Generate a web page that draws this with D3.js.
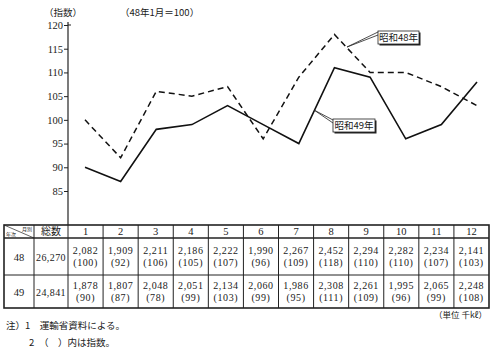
<!DOCTYPE html>
<html>
<head>
<meta charset="utf-8">
<script src="https://cdn.jsdelivr.net/npm/d3@7"></script>
<style>
  body { margin: 0; background: #fff; }
  svg { display: block; }
  text { fill: #1a1a1a; }
</style>
</head>
<body>
<div id="chart"></div>
<script>
// data
const months = [1, 2, 3, 4, 5, 6, 7, 8, 9, 10, 11, 12];
const index48 = [100, 92, 106, 105, 107, 96, 109, 118, 110, 110, 107, 103];
const index49 = [90, 87, 98, 99, 103, 99, 95, 111, 109, 96, 99, 108];
const volume48 = ["2,082", "1,909", "2,211", "2,186", "2,222", "1,990", "2,267", "2,452", "2,294", "2,282", "2,234", "2,141"];
const volume49 = ["1,878", "1,807", "2,048", "2,051", "2,134", "2,060", "1,986", "2,308", "2,261", "1,995", "2,065", "2,248"];
const paren48 = ["100", "92", "106", "105", "107", "96", "109", "118", "110", "110", "107", "103"];
const paren49 = ["90", "87", "78", "99", "103", "99", "95", "111", "109", "96", "99", "108"];
const years = ["48", "49"];
const totals = ["26,270", "24,841"];
const yTicks = [85, 90, 95, 100, 105, 110, 115, 120];

const W = 492, H = 352;
const serif = "'Liberation Serif', 'DejaVu Serif', 'Noto Sans CJK JP', serif";
const jp = "'Noto Sans CJK JP', sans-serif";

const svg = d3.select("#chart").append("svg")
    .attr("width", W)
    .attr("height", H);

// Scales
const x = d3.scalePoint().domain(months).range([85, 477]);
const y = d3.scaleLinear().domain([85, 120]).range([191, 25]);
const axisX = 68;

// Axis line (runs down into the table)
svg.append("line")
    .attr("x1", axisX).attr("x2", axisX)
    .attr("y1", 22).attr("y2", 225)
    .attr("stroke", "#222").attr("stroke-width", 1.2);

const yAxis = svg.append("g")
    .attr("transform", `translate(${axisX},0)`)
    .call(d3.axisLeft(y).tickValues(yTicks).tickSize(4).tickPadding(1));
yAxis.select(".domain").remove();
yAxis.selectAll("line").attr("stroke", "#222");
yAxis.selectAll("text")
    .style("font-family", serif)
    .style("font-size", "10.5px")
    .attr("fill", "#222");
// little mark on the right of the top tick
svg.append("line")
    .attr("x1", axisX).attr("x2", axisX + 3)
    .attr("y1", y(120)).attr("y2", y(120))
    .attr("stroke", "#222");

// Titles
svg.append("text")
    .attr("x", 44).attr("y", 16)
    .style("font-family", jp).style("font-size", "9.5px")
    .text("（指数）");
svg.append("text")
    .attr("x", 120).attr("y", 16)
    .style("font-family", jp).style("font-size", "9.5px")
    .text("（48年1月＝100）");

// Lines
const line = d3.line()
    .x((d, i) => x(months[i]))
    .y(d => y(d));

svg.append("path")
    .datum(index48)
    .attr("d", line)
    .attr("fill", "none")
    .attr("stroke", "#111")
    .attr("stroke-width", 1.5)
    .attr("stroke-dasharray", "6,4");

svg.append("path")
    .datum(index49)
    .attr("d", line)
    .attr("fill", "none")
    .attr("stroke", "#111")
    .attr("stroke-width", 1.6);

// Callout labels
function callout(bx, by, bw, bh, label, tipX, tipY) {
    const g = svg.append("g");
    g.append("path")
        .attr("d", `M${bx},${by + 1}L${tipX},${tipY}L${bx},${by + 4}`)
        .attr("fill", "none")
        .attr("stroke", "#222")
        .attr("stroke-width", 0.8);
    g.append("rect")
        .attr("x", bx + 1.5).attr("y", by + 1.5)
        .attr("width", bw).attr("height", bh)
        .attr("fill", "#222");
    g.append("rect")
        .attr("x", bx).attr("y", by)
        .attr("width", bw).attr("height", bh)
        .attr("fill", "#fff")
        .attr("stroke", "#222")
        .attr("stroke-width", 0.8);
    g.append("text")
        .attr("x", bx + bw / 2).attr("y", by + bh / 2 + 3.5)
        .attr("text-anchor", "middle")
        .style("font-family", jp).style("font-size", "9.5px")
        .text(label);
}
callout(378, 31, 41, 13, "昭和48年", 347, 47);
callout(333, 119, 42, 13, "昭和49年", 314, 110);

// Table
const tTop = 225, tHead = 238, tMid = 275, tBot = 308;
const tLeft = 4, c1 = 34, c2 = 68, tRight = 489;
const col = d3.scaleBand().domain(months).range([c2, tRight]);

const tbl = svg.append("g");
// outer frame
tbl.append("rect")
    .attr("x", tLeft).attr("y", tTop)
    .attr("width", tRight - tLeft).attr("height", tBot - tTop)
    .attr("fill", "none").attr("stroke", "#222").attr("stroke-width", 1.6);
// horizontal rules
[tHead, tMid].forEach(yy => {
    tbl.append("line")
        .attr("x1", tLeft).attr("x2", tRight)
        .attr("y1", yy).attr("y2", yy)
        .attr("stroke", "#222").attr("stroke-width", yy === tHead ? 1.4 : 1);
});
// vertical rules
[c1, c2].concat(months.slice(1).map(m => col(m))).forEach(xx => {
    tbl.append("line")
        .attr("x1", xx).attr("x2", xx)
        .attr("y1", tTop).attr("y2", tBot)
        .attr("stroke", "#222").attr("stroke-width", 1);
});
// corner cell diagonal
tbl.append("line")
    .attr("x1", tLeft).attr("y1", tTop)
    .attr("x2", c1).attr("y2", tHead)
    .attr("stroke", "#222").attr("stroke-width", 0.7);
tbl.append("text")
    .attr("x", c1 - 2).attr("y", tTop + 6)
    .attr("text-anchor", "end")
    .style("font-family", jp).style("font-size", "5px")
    .text("月別");
tbl.append("text")
    .attr("x", tLeft + 2).attr("y", tHead - 2)
    .style("font-family", jp).style("font-size", "5px")
    .text("年次");

// header
tbl.append("text")
    .attr("x", (c1 + c2) / 2).attr("y", tHead - 3)
    .attr("text-anchor", "middle")
    .style("font-family", jp).style("font-size", "10px")
    .text("総数");
tbl.selectAll(".mh")
    .data(months)
    .enter().append("text")
    .attr("class", "mh")
    .attr("x", d => col(d) + col.bandwidth() / 2)
    .attr("y", tHead - 3)
    .attr("text-anchor", "middle")
    .style("font-family", serif).style("font-size", "10.5px")
    .text(d => d);

// body rows
const rows = [
    { year: years[0], total: totals[0], vol: volume48, idx: paren48, top: tHead, bot: tMid },
    { year: years[1], total: totals[1], vol: volume49, idx: paren49, top: tMid, bot: tBot }
];
rows.forEach(r => {
    const mid = (r.top + r.bot) / 2;
    tbl.append("text")
        .attr("x", (tLeft + c1) / 2).attr("y", mid + 4)
        .attr("text-anchor", "middle")
        .style("font-family", serif).style("font-size", "10.5px")
        .text(r.year);
    tbl.append("text")
        .attr("x", (c1 + c2) / 2).attr("y", mid + 4)
        .attr("text-anchor", "middle")
        .style("font-family", serif).style("font-size", "10px")
        .style("letter-spacing", "0.4px")
        .text(r.total);
    months.forEach((m, i) => {
        const cx = col(m) + col.bandwidth() / 2;
        tbl.append("text")
            .attr("x", cx).attr("y", mid - 3)
            .attr("text-anchor", "middle")
            .style("font-family", serif).style("font-size", "10px")
            .style("letter-spacing", "0.6px")
            .text(r.vol[i]);
        tbl.append("text")
            .attr("x", cx).attr("y", mid + 9)
            .attr("text-anchor", "middle")
            .style("font-family", serif).style("font-size", "10px")
            .style("letter-spacing", "0.6px")
            .text(`(${r.idx[i]})`);
    });
});

// unit and notes
svg.append("text")
    .attr("x", 487).attr("y", 318)
    .attr("text-anchor", "end")
    .style("font-family", jp).style("font-size", "8.5px")
    .text("（単位 千kℓ）");
svg.append("text")
    .attr("x", 6).attr("y", 329)
    .style("font-family", jp).style("font-size", "9.5px")
    .text("注）1　運輸省資料による。");
svg.append("text")
    .attr("x", 29).attr("y", 346)
    .style("font-family", jp).style("font-size", "9.5px")
    .text("2　（　）内は指数。");
</script>
</body>
</html>
